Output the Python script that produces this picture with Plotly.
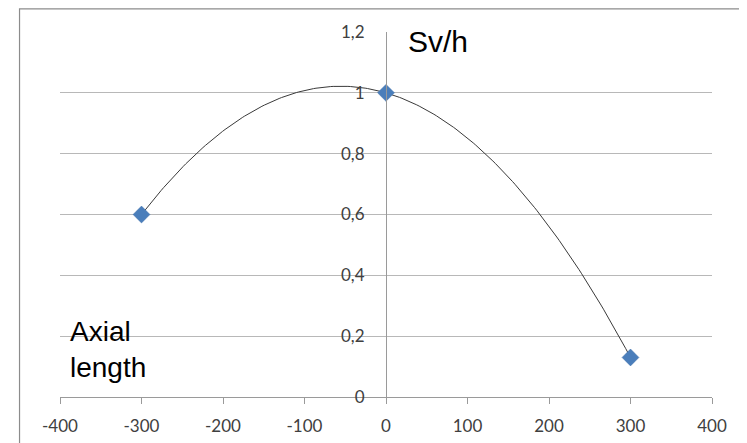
import numpy as np
import plotly.graph_objects as go

# Data
axial_length = [-300, 0, 300]
dose_rate = [0.6, 1.0, 0.13]
x_ticks = [-400, -300, -200, -100, 0, 100, 200, 300, 400]
x_tick_labels = ["-400", "-300", "-200", "-100", "0", "100", "200", "300", "400"]
y_ticks = [0, 0.2, 0.4, 0.6, 0.8, 1.0, 1.2]
y_tick_labels = ["0", "0,2", "0,4", "0,6", "0,8", "1", "1,2"]

# Polynomial (order 2) trendline fitted to the data points
coef = np.polyfit(axial_length, dose_rate, 2)
xs = np.linspace(min(axial_length), max(axial_length), 200)
ys = np.polyval(coef, xs)

fig = go.Figure()
fig.add_trace(go.Scatter(x=xs, y=ys, mode="lines",
                         line=dict(color="#3a3a3a", width=1), hoverinfo="skip"))
fig.add_trace(go.Scatter(x=axial_length, y=dose_rate, mode="markers",
                         marker=dict(symbol="diamond", size=13, color="#4A7EBB",
                                     line=dict(color="#3F6FA8", width=0.5))))

OFF = 8  # default page body margin
W, H = 747 - OFF, 443 - OFF
l, r, t, b = 59.5 - OFF, 35, 31.7 - OFF, 46.3
pw = W - l - r
ph = H - t - b

fig.update_layout(
    width=W, height=H,
    margin=dict(l=l, r=r, t=t, b=b, autoexpand=False),
    paper_bgcolor="white", plot_bgcolor="white",
    showlegend=False,
    font=dict(family="Lato, sans-serif", color="#404040"),
    xaxis=dict(range=[-400, 400], tickvals=x_ticks, ticktext=x_tick_labels,
               showgrid=False, zeroline=False, automargin=False,
               showline=True, linecolor="#9a9a9a", linewidth=1,
               ticks="outside", ticklen=6, tickcolor="#9a9a9a",
               tickfont=dict(size=17, color="#404040"), ticklabelstandoff=8),
    yaxis=dict(range=[0, 1.2], tickvals=y_ticks, ticktext=y_tick_labels,
               showgrid=True, gridcolor="#b8b8b8", automargin=False,
               zeroline=False, showline=True, linecolor="#9a9a9a", linewidth=1,
               anchor="free", position=0.5, ticks="",
               tickfont=dict(size=17, color="#404040"), ticklabelstandoff=18),
    shapes=[dict(type="rect", xref="paper", yref="paper",
                 x0=(19 - OFF - l) / pw, x1=1.2, y0=-0.3, y1=(H - b - (8 - OFF) - 0.5) / ph,
                 line=dict(color="#8c8c8c", width=1.2), fillcolor="rgba(0,0,0,0)",
                 layer="below")],
    annotations=[
        dict(text="Sv/h", x=25, y=1.17, xref="x", yref="y", xanchor="left",
             yanchor="middle", showarrow=False,
             font=dict(family="Liberation Sans, Arial", size=30, color="black")),
        dict(text="Axial<br>length", x=-390, y=0.155, xref="x", yref="y",
             xanchor="left", yanchor="middle", align="left", showarrow=False,
             font=dict(family="Liberation Sans, Arial", size=28, color="black")),
    ],
)

fig.write_html("out.html")
